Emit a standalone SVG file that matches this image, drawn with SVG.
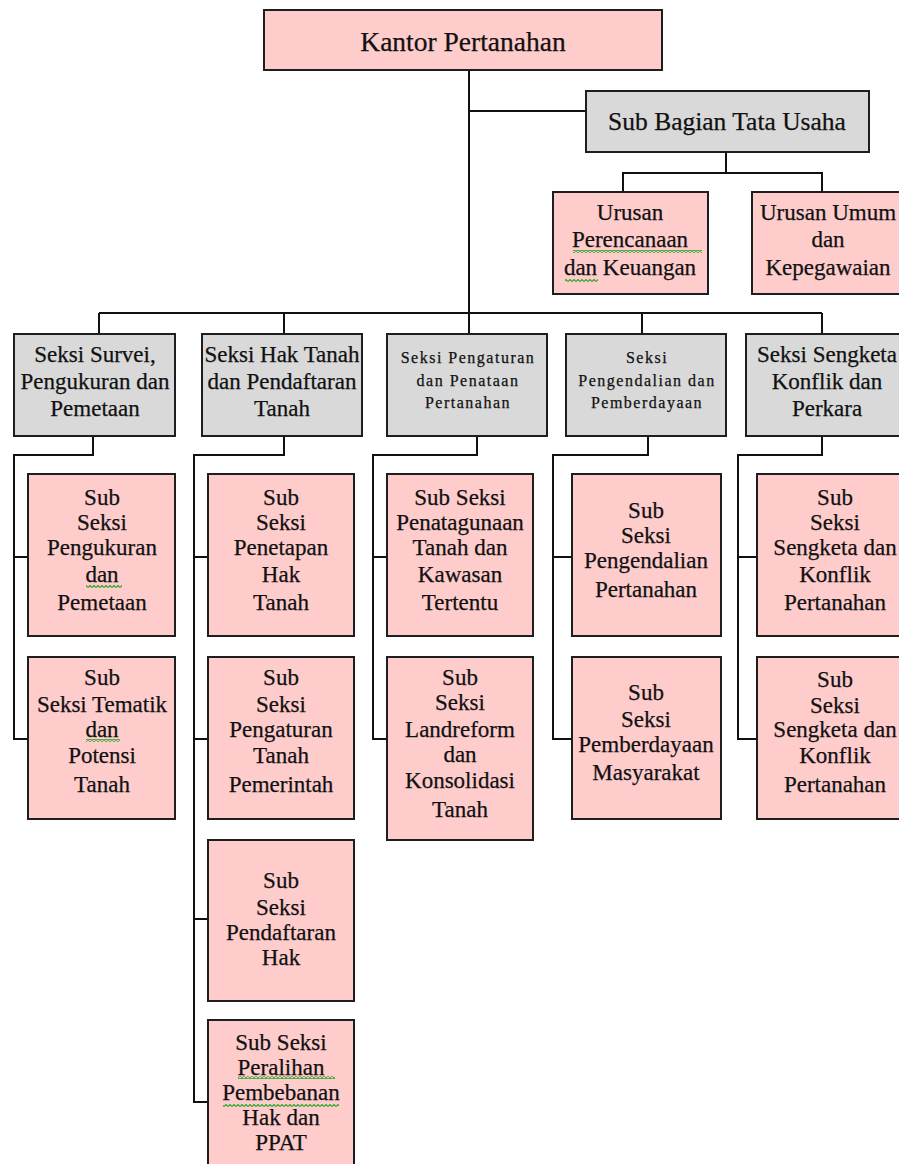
<svg xmlns="http://www.w3.org/2000/svg" width="899" height="1164" viewBox="0 0 899 1164">
<style>
.box{stroke:#1e1e1e;stroke-width:2}
.pink{fill:#ffcccc}
.gray{fill:#d9d9d9}
text{font-family:"Liberation Serif","Times New Roman",serif;fill:#111;stroke:#111;stroke-width:0.25;text-anchor:middle}
.t23{font-size:23px}
.t16{font-size:16px;letter-spacing:1.5px}
.con{stroke:#111;stroke-width:2;fill:none}
</style>
<defs>
<pattern id="wavy" width="4" height="3" patternUnits="userSpaceOnUse">
<path d="M0,2.5 L2,0.5 L4,2.5" stroke="#2ea82e" stroke-width="1.2" fill="none"/>
</pattern>
</defs>
<rect width="899" height="1164" fill="#fff"/>

<g id="connectors" class="con">
<path d="M469,70 V334"/>
<path d="M469,111 H586"/>
<path d="M726,152 V173 M623,192 V173 H822 V192"/>
<path d="M99,313 H822 M99,313 V334 M284,313 V334 M642,313 V334 M822,313 V334"/>
<path d="M93,436 V455 H14 V739 H28 M14,557 H28"/>
<path d="M284,436 V455 H194 V1102 H208 M194,557 H208 M194,739 H208 M194,919 H208"/>
<path d="M477,436 V455 H373 V739 H387 M373,557 H387"/>
<path d="M648,436 V455 H553 V739 H572 M553,557 H572"/>
<path d="M822,436 V455 H738 V739 H757 M738,557 H757"/>
</g>

<g id="kantor">
<rect class="box pink" x="264" y="10" width="398" height="60"/>
<text x="463" y="51" style="font-size:27.5px">Kantor Pertanahan</text>
</g>

<g id="subbagian">
<rect class="box gray" x="586" y="91" width="283" height="61"/>
<text x="727" y="130" style="font-size:25.5px">Sub Bagian Tata Usaha</text>
</g>

<g id="urusan-perencanaan">
<rect class="box pink" x="553" y="192" width="155" height="102"/>
<text class="t23" x="630" y="220">Urusan</text>
<text class="t23" x="630" y="247">Perencanaan</text>
<text class="t23" x="630" y="275">dan Keuangan</text>
</g>

<g id="urusan-umum">
<rect class="box pink" x="752" y="192" width="153" height="102"/>
<text class="t23" x="828" y="220">Urusan Umum</text>
<text class="t23" x="828" y="247">dan</text>
<text class="t23" x="828" y="275">Kepegawaian</text>
</g>

<g id="seksi-survei">
<rect class="box gray" x="14" y="334" width="161" height="102"/>
<text class="t23" x="95" y="362">Seksi Survei,</text>
<text class="t23" x="95" y="389">Pengukuran dan</text>
<text class="t23" x="95" y="416">Pemetaan</text>
</g>

<g id="seksi-hak">
<rect class="box gray" x="202" y="334" width="160" height="102"/>
<text class="t23" x="282" y="362">Seksi Hak Tanah</text>
<text class="t23" x="282" y="389">dan Pendaftaran</text>
<text class="t23" x="282" y="416">Tanah</text>
</g>

<g id="seksi-pengaturan">
<rect class="box gray" x="387" y="334" width="160" height="102"/>
<text class="t16" x="468" y="363">Seksi Pengaturan</text>
<text class="t16" x="468" y="386">dan Penataan</text>
<text class="t16" x="468" y="408">Pertanahan</text>
</g>

<g id="seksi-pengendalian">
<rect class="box gray" x="566" y="334" width="160" height="102"/>
<text class="t16" x="647" y="363">Seksi</text>
<text class="t16" x="647" y="386">Pengendalian dan</text>
<text class="t16" x="647" y="408">Pemberdayaan</text>
</g>

<g id="seksi-sengketa">
<rect class="box gray" x="746" y="334" width="162" height="102"/>
<text class="t23" x="827" y="362">Seksi Sengketa</text>
<text class="t23" x="827" y="389">Konflik dan</text>
<text class="t23" x="827" y="416">Perkara</text>
</g>

<g id="sub-pengukuran">
<rect class="box pink" x="28" y="474" width="147" height="162"/>
<text class="t23" x="102" y="505">Sub</text>
<text class="t23" x="102" y="530">Seksi</text>
<text class="t23" x="102" y="555">Pengukuran</text>
<text class="t23" x="102" y="582">dan</text>
<text class="t23" x="102" y="610">Pemetaan</text>
</g>

<g id="sub-tematik">
<rect class="box pink" x="28" y="657" width="147" height="162"/>
<text class="t23" x="102" y="685">Sub</text>
<text class="t23" x="102" y="712">Seksi Tematik</text>
<text class="t23" x="102" y="737">dan</text>
<text class="t23" x="102" y="763">Potensi</text>
<text class="t23" x="102" y="792">Tanah</text>
</g>

<g id="sub-penetapan">
<rect class="box pink" x="208" y="474" width="146" height="162"/>
<text class="t23" x="281" y="505">Sub</text>
<text class="t23" x="281" y="530">Seksi</text>
<text class="t23" x="281" y="555">Penetapan</text>
<text class="t23" x="281" y="582">Hak</text>
<text class="t23" x="281" y="610">Tanah</text>
</g>

<g id="sub-pengaturan-tanah">
<rect class="box pink" x="208" y="657" width="146" height="162"/>
<text class="t23" x="281" y="685">Sub</text>
<text class="t23" x="281" y="712">Seksi</text>
<text class="t23" x="281" y="737">Pengaturan</text>
<text class="t23" x="281" y="763">Tanah</text>
<text class="t23" x="281" y="792">Pemerintah</text>
</g>

<g id="sub-pendaftaran">
<rect class="box pink" x="208" y="840" width="146" height="161"/>
<text class="t23" x="281" y="888">Sub</text>
<text class="t23" x="281" y="915">Seksi</text>
<text class="t23" x="281" y="940">Pendaftaran</text>
<text class="t23" x="281" y="965">Hak</text>
</g>

<g id="sub-peralihan">
<rect class="box pink" x="208" y="1020" width="146" height="160"/>
<text class="t23" x="281" y="1050">Sub Seksi</text>
<text class="t23" x="281" y="1075">Peralihan</text>
<text class="t23" x="281" y="1100">Pembebanan</text>
<text class="t23" x="281" y="1125">Hak dan</text>
<text class="t23" x="281" y="1150">PPAT</text>
</g>

<g id="sub-penatagunaan">
<rect class="box pink" x="387" y="474" width="146" height="162"/>
<text class="t23" x="460" y="505">Sub Seksi</text>
<text class="t23" x="460" y="530">Penatagunaan</text>
<text class="t23" x="460" y="555">Tanah dan</text>
<text class="t23" x="460" y="582">Kawasan</text>
<text class="t23" x="460" y="610">Tertentu</text>
</g>

<g id="sub-landreform">
<rect class="box pink" x="387" y="657" width="146" height="183"/>
<text class="t23" x="460" y="685">Sub</text>
<text class="t23" x="460" y="710">Seksi</text>
<text class="t23" x="460" y="737">Landreform</text>
<text class="t23" x="460" y="762">dan</text>
<text class="t23" x="460" y="788">Konsolidasi</text>
<text class="t23" x="460" y="817">Tanah</text>
</g>

<g id="sub-pengendalian">
<rect class="box pink" x="572" y="474" width="149" height="162"/>
<text class="t23" x="646" y="518">Sub</text>
<text class="t23" x="646" y="543">Seksi</text>
<text class="t23" x="646" y="568">Pengendalian</text>
<text class="t23" x="646" y="597">Pertanahan</text>
</g>

<g id="sub-pemberdayaan">
<rect class="box pink" x="572" y="657" width="149" height="162"/>
<text class="t23" x="646" y="700">Sub</text>
<text class="t23" x="646" y="727">Seksi</text>
<text class="t23" x="646" y="752">Pemberdayaan</text>
<text class="t23" x="646" y="780">Masyarakat</text>
</g>

<g id="sub-sengketa-1">
<rect class="box pink" x="757" y="474" width="156" height="162"/>
<text class="t23" x="835" y="505">Sub</text>
<text class="t23" x="835" y="530">Seksi</text>
<text class="t23" x="835" y="555">Sengketa dan</text>
<text class="t23" x="835" y="582">Konflik</text>
<text class="t23" x="835" y="610">Pertanahan</text>
</g>

<g id="sub-sengketa-2">
<rect class="box pink" x="757" y="657" width="156" height="162"/>
<text class="t23" x="835" y="687">Sub</text>
<text class="t23" x="835" y="713">Seksi</text>
<text class="t23" x="835" y="737">Sengketa dan</text>
<text class="t23" x="835" y="763">Konflik</text>
<text class="t23" x="835" y="792">Pertanahan</text>
</g>

<g id="spellcheck-underlines" fill="url(#wavy)">
<rect x="573" y="250" width="129" height="3"/>
<rect x="565" y="279" width="33" height="3"/>
<rect x="86" y="585" width="36" height="3"/>
<rect x="86" y="739" width="34" height="3"/>
<rect x="238" y="1076" width="97" height="3"/>
<rect x="223" y="1104" width="116" height="3"/>
</g>
</svg>
